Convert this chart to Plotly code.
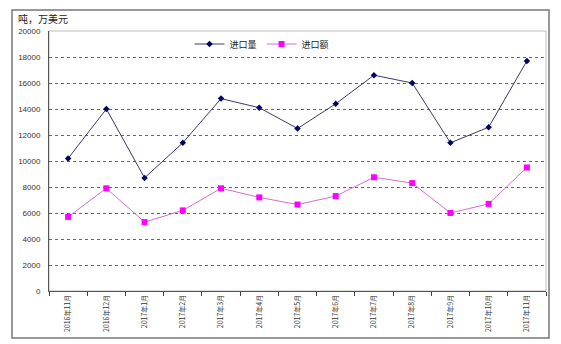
import plotly.graph_objects as go

categories = ["2016年11月", "2016年12月", "2017年1月", "2017年2月", "2017年3月", "2017年4月",
              "2017年5月", "2017年6月", "2017年7月", "2017年8月", "2017年9月", "2017年10月", "2017年11月"]
volume = [10200, 14000, 8700, 11400, 14800, 14100, 12500, 14400, 16600, 16000, 11400, 12600, 17700]
value = [5700, 7900, 5300, 6200, 7900, 7200, 6650, 7300, 8750, 8300, 6000, 6700, 9500]
y_ticks = list(range(0, 20001, 2000))

cjk = "Noto Sans CJK SC"

fig = go.Figure()
fig.add_trace(go.Scatter(
    x=categories, y=volume, name="进口量", mode="lines+markers",
    line=dict(color="#3a3a6e", width=1),
    marker=dict(symbol="diamond", size=5, color="#000066"),
))
fig.add_trace(go.Scatter(
    x=categories, y=value, name="进口额", mode="lines+markers",
    line=dict(color="#d070d0", width=1),
    marker=dict(symbol="square", size=6, color="#ff00ff"),
))

fig.update_layout(
    width=561, height=344,
    margin=dict(l=49, r=15, t=31, b=53, autoexpand=False),
    paper_bgcolor="white", plot_bgcolor="white",
    showlegend=True,
    legend=dict(orientation="h", x=(262 - 49) / 497, y=(291 - 44) / 260, xanchor="center", yanchor="middle",
                font=dict(family=cjk, size=9, color="#222"), itemwidth=30,
                bgcolor="rgba(0,0,0,0)", tracegroupgap=0),
    font=dict(family=cjk, size=8, color="#333"),
)
fig.update_xaxes(
    type="category", range=[-0.5, 12.5], automargin=False,
    tickangle=-90, tickfont=dict(family=cjk, size=7, color="#333"),
    ticks="outside", ticklen=4, tickcolor="#444", tickson="boundaries",
    showline=True, linecolor="#555", linewidth=1, showgrid=False,
)
fig.update_yaxes(
    range=[0, 20000], tickvals=y_ticks, ticktext=[str(v) for v in y_ticks], automargin=False,
    tickfont=dict(family="Liberation Sans", size=8, color="#333"),
    showline=True, linecolor="#555", linewidth=1,
    showgrid=True, gridcolor="#666", griddash="dot", gridwidth=1,
    zeroline=False, ticks="", ticklabelstandoff=6,
)

shapes = [
    dict(type="rect", xref="paper", yref="paper", x0=0, x1=1, y0=0, y1=1,
         line=dict(color="#bbbbbb", width=1), layer="below"),
    dict(type="rect", xref="paper", yref="paper",
         x0=(12 - 49) / 497, x1=(549 - 49) / 497,
         y0=(291 - 338) / 260, y1=(291 - 10) / 260,
         line=dict(color="#777777", width=1.5)),
]
fig.update_layout(shapes=shapes)
fig.add_annotation(text="吨，万美元", xref="paper", yref="paper",
                   x=(16 - 49) / 497, y=(291 - 19) / 260, xanchor="left", yanchor="middle",
                   showarrow=False, font=dict(family=cjk, size=10, color="#222"))

fig.write_html("out.html")
